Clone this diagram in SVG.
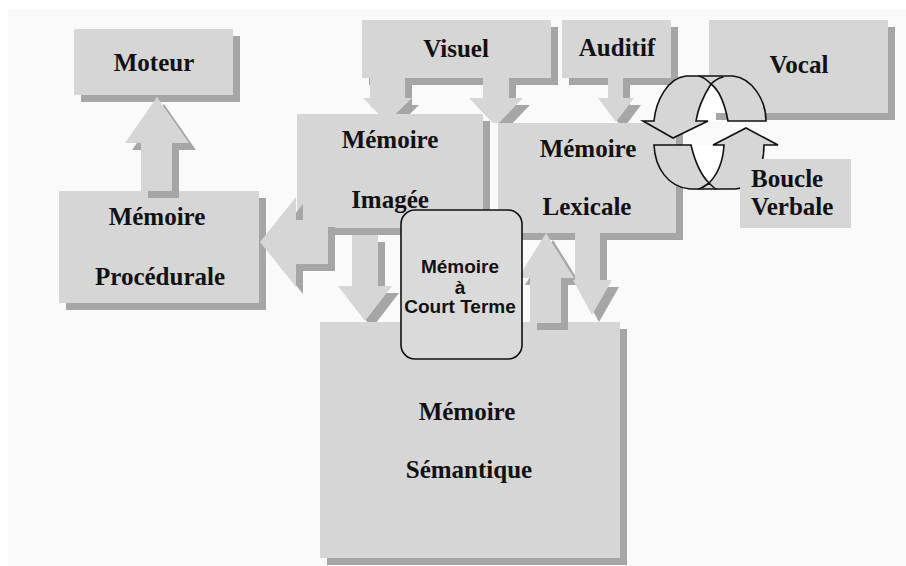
<svg xmlns="http://www.w3.org/2000/svg" width="906" height="566" viewBox="0 0 906 566">
<defs>
<style>
.sh{fill:#a6a6a6}
.bx{fill:#d6d6d6}
.t{font-family:"Liberation Serif","Times New Roman",serif;font-weight:bold;font-size:25px;fill:#111;text-anchor:middle}
.tl{text-anchor:start}
.s{font-family:"Liberation Sans",Arial,sans-serif;font-weight:bold;font-size:19px;fill:#111;text-anchor:middle}
.ln{fill:none;stroke:#111;stroke-width:1.6;stroke-linejoin:round;stroke-linecap:round}
.rg{fill:#d6d6d6;stroke:#111;stroke-width:1.6;stroke-linejoin:miter}
.hole{fill:#ffffff}
</style>
<clipPath id="cImg"><rect x="0" y="0" width="906" height="114"/></clipPath>
<clipPath id="cLex"><rect x="0" y="0" width="906" height="123"/></clipPath>
<clipPath id="cSem"><rect x="0" y="0" width="906" height="322"/></clipPath>
<polygon id="pMot" points="157,97 189,143 172,143 172,191 141,191 141,143 125,143"/>
<polygon id="pVisImg" points="370,78 405,78 405,98 412,98 387.5,122 363,98 370,98"/>
<polygon id="pVisLex" points="483,78 509,78 509,98 523,98 496,126 469,98 483,98"/>
<polygon id="pAudLex" points="608,78 623,78 623,98 634,98 616,122 598,98 608,98"/>
<polygon id="pImgPro" points="260,242 296,197 296,220 328,220 328,264 296,264 296,287"/>
<polygon id="pImgSem" points="352,235 378,235 378,286 392,286 365,321 338,286 352,286"/>
<polygon id="pSemLex" points="546,233 574,278 561,278 561,323 530,323 530,278 518,278"/>
<polygon id="pLexSem" points="575,233 600,233 600,280 612,280 592,315 573,280 575,280"/>
</defs>
<rect x="0" y="0" width="906" height="566" fill="#ffffff"/>
<rect x="8" y="9" width="898" height="557" fill="#fafafa"/>

<g id="moteur">
<rect class="sh" x="81" y="36" width="159" height="66"/>
<rect class="bx" x="74" y="29" width="159" height="66"/>
<text class="t" x="154" y="71">Moteur</text>
</g>
<g id="procedurale">
<rect class="sh" x="66" y="198" width="200" height="112"/>
<rect class="bx" x="59" y="191" width="200" height="112"/>
<text class="t" x="157" y="225">Mémoire</text>
<text class="t" x="160" y="285">Procédurale</text>
</g>
<g id="visuel">
<rect class="sh" x="369" y="27" width="189" height="58"/>
<rect class="bx" x="362" y="20" width="189" height="58"/>
<text class="t" x="456" y="57">Visuel</text>
</g>
<g id="auditif">
<rect class="sh" x="569" y="27" width="109" height="58"/>
<rect class="bx" x="562" y="20" width="109" height="58"/>
<text class="t" x="617" y="56">Auditif</text>
</g>
<g id="vocal">
<rect class="sh" x="716" y="27" width="179" height="93"/>
<rect class="bx" x="709" y="20" width="179" height="93"/>
<text class="t" x="799" y="73">Vocal</text>
</g>
<g id="imagee">
<rect class="sh" x="304" y="121" width="186" height="114"/>
<rect class="bx" x="297" y="114" width="186" height="114"/>
<text class="t" x="390" y="148">Mémoire</text>
<text class="t" x="390" y="208">Imagée</text>
</g>
<g id="lexicale">
<rect class="sh" x="505" y="130" width="178" height="110"/>
<rect class="bx" x="498" y="123" width="178" height="110"/>
<text class="t" x="588" y="157">Mémoire</text>
<text class="t" x="587" y="215">Lexicale</text>
</g>
<g id="semantique">
<rect class="sh" x="327" y="329" width="300" height="236"/>
<rect class="bx" x="320" y="322" width="300" height="236"/>
<text class="t" x="467" y="420">Mémoire</text>
<text class="t" x="469" y="478">Sémantique</text>
</g>

<g id="connectors">
<g id="c-proc-moteur"><use href="#pMot" class="sh" transform="translate(7,7)"/><use href="#pMot" class="bx"/></g>
<g id="c-visuel-imagee" clip-path="url(#cImg)"><use href="#pVisImg" class="sh" transform="translate(7,7)"/><use href="#pVisImg" class="bx"/></g>
<g id="c-visuel-lexicale" clip-path="url(#cLex)"><use href="#pVisLex" class="sh" transform="translate(7,7)"/><use href="#pVisLex" class="bx"/></g>
<g id="c-auditif-lexicale" clip-path="url(#cLex)"><use href="#pAudLex" class="sh" transform="translate(7,7)"/><use href="#pAudLex" class="bx"/></g>
<g id="c-imagee-proc"><use href="#pImgPro" class="sh" transform="translate(7,7)"/><use href="#pImgPro" class="bx"/></g>
<g id="c-imagee-sem" clip-path="url(#cSem)"><use href="#pImgSem" class="sh" transform="translate(7,7)"/><use href="#pImgSem" class="bx"/></g>
<g id="c-sem-lexicale"><use href="#pSemLex" class="sh" transform="translate(7,7)"/><use href="#pSemLex" class="bx"/></g>
<g id="c-lexicale-sem" clip-path="url(#cSem)"><use href="#pLexSem" class="sh" transform="translate(7,7)"/><use href="#pLexSem" class="bx"/></g>
<g id="c-boucle">
<path class="hole" d="M 696 121 C 698 108 704 95 711 84 C 719 90 725 105 728 121 Z"/>
<rect class="sh" x="716" y="113" width="11" height="7"/>
<path class="rg" d="M 654 121 C 656 100 668 78 686 76 L 733 76 C 752 78 766 100 766 121 L 728 121 C 725 105 719 90 711 84 C 704 95 698 108 696 121 L 708 121 L 673 138 L 643 121 Z"/>
<path class="ln" d="M 711 84 C 707 80 703 77 699 76 M 711 84 C 715 80 719 78 723 77"/>
<path class="hole" d="M 691 145 C 695 162 701 175 709 183 C 717 175 723 162 724 145 Z"/>
<path class="rg" d="M 654 145 L 691 145 C 695 162 701 175 709 183 C 717 175 723 162 724 145 L 713 145 L 746 128 L 778 145 L 764 145 C 764 170 752 189 735 189 L 690 189 C 668 187 655 168 654 145 Z"/>
<path class="ln" d="M 709 183 C 705 186 702 188 699 189 M 709 183 C 712 186 714 188 716 189"/>
</g>
</g>

<g id="boucle-verbale">
<rect class="bx" x="740" y="159" width="111" height="69"/>
<text class="t tl" x="751" y="187">Boucle</text>
<text class="t tl" x="751" y="215">Verbale</text>
</g>
<g id="court-terme">
<rect x="401" y="210" width="121" height="149" rx="14" fill="#dadada" stroke="#111" stroke-width="1.6"/>
<text class="s" x="460" y="273">Mémoire</text>
<text class="s" x="460" y="294">à</text>
<text class="s" x="460" y="313">Court Terme</text>
</g>
</svg>
